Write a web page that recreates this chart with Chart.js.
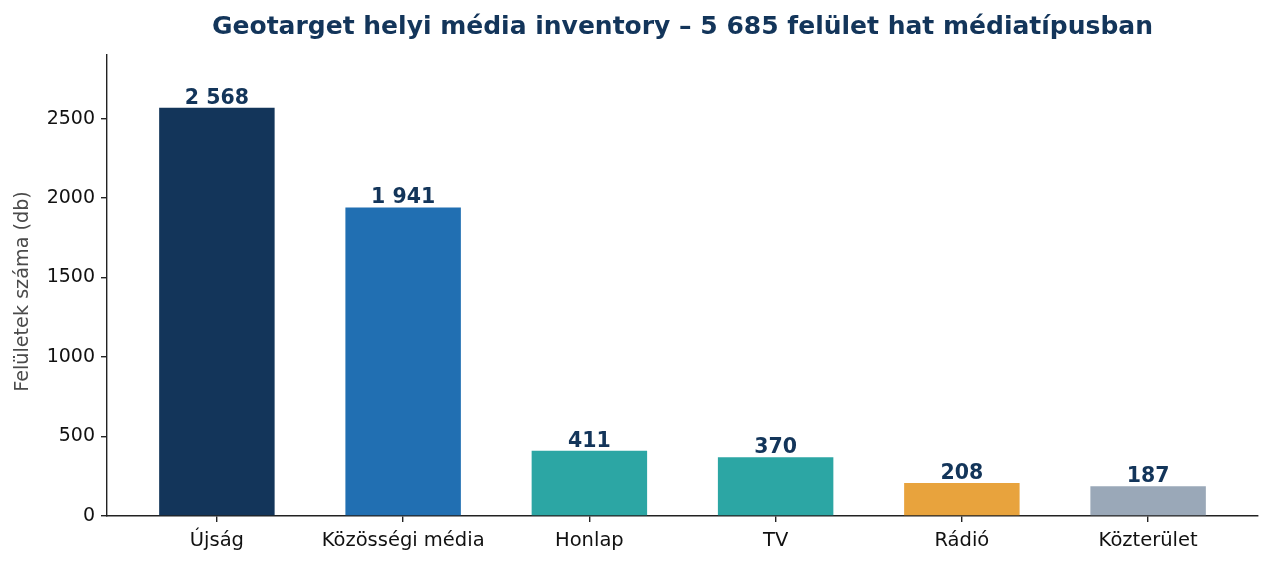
<!DOCTYPE html>
<html>
<head>
<meta charset="utf-8">
<script src="https://cdn.jsdelivr.net/npm/chart.js"></script>
<style>
  html, body { margin: 0; padding: 0; background: #fff; }
  #wrap { width: 1273px; height: 568px; }
</style>
</head>
<body>
<div id="wrap"><canvas id="mediaChart"></canvas></div>
<script>
// Adatok
const categories = ['Újság', 'Közösségi média', 'Honlap', 'TV', 'Rádió', 'Közterület'];
const counts = [2568, 1941, 411, 370, 208, 187];
const barColors = ['#13355a', '#216fb2', '#2ca6a4', '#2ca6a4', '#e8a33d', '#9aa8b8'];
const yTicks = [0, 500, 1000, 1500, 2000, 2500];

const titleText = 'Geotarget helyi média inventory – 5 685 felület hat médiatípusban';
const yTitle = 'Felületek száma (db)';
const navy = '#13355a';
const font = "'DejaVu Sans', sans-serif";

// 2568 -> "2 568"
function fmt(v) {
  return String(v).replace(/\B(?=(\d{3})+(?!\d))/g, ' ');
}

// Címek és értékcímkék
const textPlugin = {
  id: 'texts',
  afterDraw(chart) {
    const ctx = chart.ctx;
    const area = chart.chartArea;
    ctx.save();

    ctx.fillStyle = navy;
    ctx.font = 'bold 25px ' + font;
    ctx.textAlign = 'center';
    ctx.textBaseline = 'middle';
    ctx.fillText(titleText, (area.left + area.right) / 2, 27);

    ctx.save();
    ctx.translate(23, (area.top + area.bottom) / 2 + 6);
    ctx.rotate(-Math.PI / 2);
    ctx.fillStyle = '#4a4a4a';
    ctx.font = '19.2px ' + font;
    ctx.fillText(yTitle, 0, 0);
    ctx.restore();

    ctx.fillStyle = navy;
    ctx.font = 'bold 20.5px ' + font;
    ctx.textBaseline = 'alphabetic';
    chart.getDatasetMeta(0).data.forEach((bar, i) => {
      ctx.fillText(fmt(counts[i]), bar.x, bar.y - 4);
    });
    ctx.restore();
  }
};

new Chart(document.getElementById('mediaChart'), {
  type: 'bar',
  data: {
    datasets: [{
      data: counts.map((v, i) => ({ x: i, y: v })),
      backgroundColor: barColors,
      borderWidth: 0,
      barPercentage: 0.62,
      categoryPercentage: 1
    }]
  },
  options: {
    responsive: true,
    maintainAspectRatio: false,
    animation: false,
    layout: { padding: { top: 55, right: 15, left: 0, bottom: 0 } },
    plugins: { legend: { display: false }, tooltip: { enabled: false } },
    scales: {
      x: {
        type: 'linear',
        offset: false,
        min: -0.59,
        max: 5.59,
        afterBuildTicks(scale) { scale.ticks = categories.map((c, i) => ({ value: i })); },
        afterFit(scale) { scale.height = 52; },
        ticks: {
          callback: (v) => categories[v],
          color: '#111',
          font: { family: font, size: 19.5 },
          padding: 7,
          maxRotation: 0,
          autoSkip: false
        },
        grid: { offset: false, drawOnChartArea: false, drawTicks: true, tickLength: 6, color: '#222', lineWidth: 1.4 },
        border: { color: '#222', width: 1.4 }
      },
      y: {
        min: 0,
        max: 2900,
        afterBuildTicks(scale) { scale.ticks = yTicks.map(v => ({ value: v })); },
        afterFit(scale) { scale.width = 107; },
        ticks: {
          callback: (v) => String(v),
          color: '#111',
          font: { family: font, size: 19 },
          padding: 6
        },
        grid: { drawOnChartArea: false, drawTicks: true, tickLength: 6, color: '#222', lineWidth: 1.4 },
        border: { color: '#222', width: 1.4 }
      }
    }
  },
  plugins: [textPlugin]
});
</script>
</body>
</html>
